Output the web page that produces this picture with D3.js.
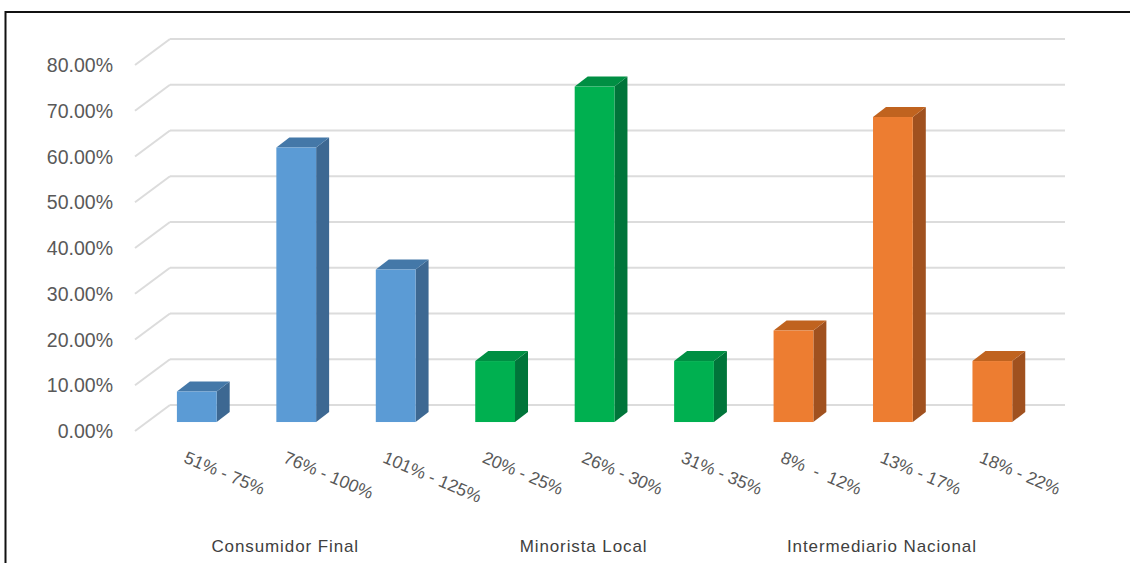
<!DOCTYPE html>
<html>
<head>
<meta charset="utf-8">
<script src="https://cdn.jsdelivr.net/npm/d3@7"></script>
<style>
  body { margin: 0; background: #fff; }
  svg text { font-family: "Liberation Sans", Arial, sans-serif; }
</style>
</head>
<body>
<svg id="chart"></svg>
<script>
// data
var groups = ["Consumidor Final", "Minorista Local", "Intermediario Nacional"];
var ranges = ["51% - 75%", "76% - 100%", "101% - 125%",
              "20% - 25%", "26% - 30%", "31% - 35%",
              "8%  -  12%", "13% - 17%", "18% - 22%"];
var rangeGroup = [0, 0, 0, 1, 1, 1, 2, 2, 2];
var values = [0.0667, 0.60, 0.3333, 0.1333, 0.7333, 0.1333, 0.20, 0.6667, 0.1333];
var yTicks = [0, 0.1, 0.2, 0.3, 0.4, 0.5, 0.6, 0.7, 0.8];

var svgWidth = 1130;
var svgHeight = 563;

// colours per group: front, side, top
var colors = [
  { front: "#5b9bd5", side: "#3d6892", top: "#4478a8" },
  { front: "#00b050", side: "#00753a", top: "#008f43" },
  { front: "#ed7d31", side: "#a0511f", top: "#c0631f" }
];

var svg = d3.select("#chart")
  .attr("width", svgWidth)
  .attr("height", svgHeight);

// frame
svg.append("rect")
  .attr("x", 5.5).attr("y", 12)
  .attr("width", 1140).attr("height", 600)
  .attr("fill", "none")
  .attr("stroke", "#111")
  .attr("stroke-width", 2);

// 3d box: back wall plane, and depth offsets
var back = { x0: 170, x1: 1065 };
var depth = { dx: 35, dy: 26 };     // back wall -> front edge
var barPos = 0.655;                 // bar front face position in depth (0 = back)
var barDepth = { dx: 13, dy: 10 };

var y = d3.scaleLinear().domain([0, 0.8]).range([405, 39]);

// back wall gridlines + diagonal floor edges
var grid = svg.append("g");
yTicks.forEach(function(t) {
  grid.append("line")
    .attr("x1", back.x0).attr("x2", back.x1)
    .attr("y1", y(t)).attr("y2", y(t))
    .attr("stroke", "#dcdcdc").attr("stroke-width", 2);
  grid.append("line")
    .attr("x1", back.x0 - depth.dx).attr("y1", y(t) + depth.dy)
    .attr("x2", back.x0).attr("y2", y(t))
    .attr("stroke", "#dcdcdc").attr("stroke-width", 2);
});

// y axis labels on front edge
svg.append("g")
  .selectAll("text")
  .data(yTicks)
  .enter()
  .append("text")
    .attr("x", 113)
    .attr("y", function(d) { return y(d) + depth.dy + 7; })
    .attr("text-anchor", "end")
    .attr("font-size", 19.5)
    .attr("fill", "#595959")
    .text(function(d) { return d3.format(".2%")(d); });

// bars
var offX = -depth.dx * barPos;
var offY = depth.dy * barPos;
var x = d3.scaleBand()
  .domain(ranges)
  .range([back.x0 + offX, back.x1 + offX])
  .paddingInner(0.6)
  .paddingOuter(0.3);

var bars = svg.append("g")
  .selectAll("g")
  .data(ranges)
  .enter()
  .append("g");

bars.each(function(d, i) {
  var g = d3.select(this);
  var c = colors[rangeGroup[i]];
  var x0 = x(d), x1 = x(d) + x.bandwidth();
  var yb = y(0) + offY, yt = y(values[i]) + offY;
  var dx = barDepth.dx, dy = barDepth.dy;
  g.append("polygon")
    .attr("points", [[x1, yt], [x1 + dx, yt - dy], [x1 + dx, yb - dy], [x1, yb]].join(" "))
    .attr("fill", c.side);
  g.append("polygon")
    .attr("points", [[x0, yt], [x1, yt], [x1 + dx, yt - dy], [x0 + dx, yt - dy]].join(" "))
    .attr("fill", c.top);
  g.append("rect")
    .attr("x", x0).attr("y", yt)
    .attr("width", x1 - x0).attr("height", yb - yt)
    .attr("fill", c.front);
});

// rotated category labels
svg.append("g")
  .selectAll("text")
  .data(ranges)
  .enter()
  .append("text")
    .attr("transform", function(d) {
      return "translate(" + (x(d) + x.bandwidth() / 2 - 14) + ",462) rotate(23)";
    })
    .attr("font-size", 17.5)
    .attr("fill", "#595959")
    .style("white-space", "pre")
    .text(function(d) { return d; });

// group labels
svg.append("g")
  .selectAll("text")
  .data(groups)
  .enter()
  .append("text")
    .attr("x", function(d, i) { return x(ranges[i * 3 + 1]) + x.bandwidth() / 2 - 11; })
    .attr("y", 552)
    .attr("text-anchor", "middle")
    .attr("font-size", 17)
    .attr("letter-spacing", 0.9)
    .attr("fill", "#404040")
    .text(function(d) { return d; });
</script>
</body>
</html>
